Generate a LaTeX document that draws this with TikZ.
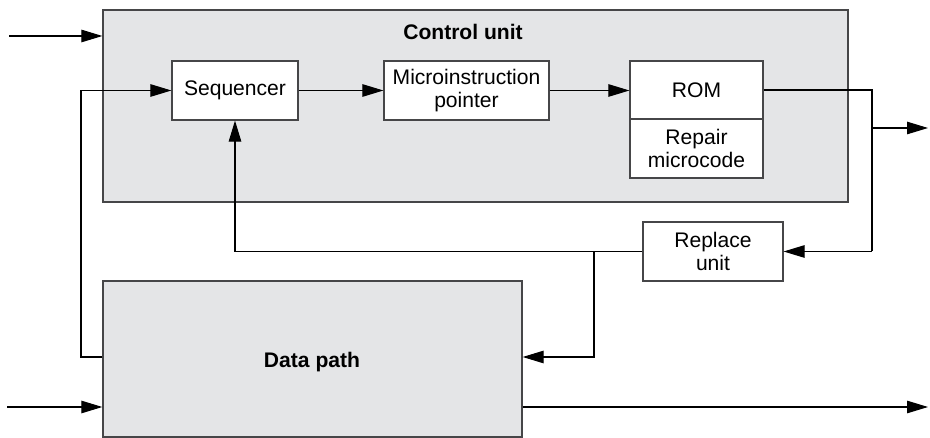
\documentclass[tikz,border=0pt]{standalone}
\usepackage{fontspec}
\setmainfont{Liberation Sans}
\usetikzlibrary{arrows.meta}

\definecolor{unitgray}{RGB}{228,229,231}
\definecolor{edgegray}{RGB}{70,70,72}

\tikzset{
  blk/.style={draw=edgegray,line width=0.7pt,fill=white,rectangle,inner sep=1pt,align=center,
    font=\fontsize{12}{13.5}\selectfont},
  unit/.style={draw=edgegray,line width=0.8pt,fill=unitgray,rectangle,inner sep=0pt},
  arr/.style={line width=0.6pt,-{Triangle[length=0.42cm,width=0.25cm]}},
  wire/.style={line width=0.6pt}
}

\begin{document}
\begin{tikzpicture}[x=0.02cm,y=-0.02cm]
  \useasboundingbox (0,0) rectangle (930,438);
  % big shaded units
  \node (ctrl) at (475.5,106) [unit,minimum width=14.9cm,minimum height=3.84cm] {};
  \node (ctrltitle) at (463,32) [font=\fontsize{12}{13.5}\selectfont\bfseries] {Control unit};
  \node (dp) at (312.5,359) [unit,minimum width=8.38cm,minimum height=3.12cm] {};
  \node (dptitle) at (312,362) [font=\fontsize{12}{13.5}\selectfont\bfseries] {Data path};

  % blocks
  \node (seq) at (235,90.5) [blk,minimum width=2.52cm,minimum height=1.18cm] {Sequencer};
  \node (mip) at (466.5,90.5) [blk,minimum width=3.3cm,minimum height=1.18cm] {Microinstruction\\pointer};
  \node (rom) at (696.5,90) [blk,minimum width=2.66cm,minimum height=1.16cm] {ROM};
  \node (repair) at (696.5,148.5) [blk,minimum width=2.66cm,minimum height=1.18cm] {Repair\\microcode};
  \node (repl) at (713,251.5) [blk,minimum width=2.8cm,minimum height=1.18cm] {Replace\\unit};

  % free ends and bends
  \coordinate (in1) at (9,36);
  \coordinate (in2) at (7,407);
  \coordinate (rt) at (872,90);
  \coordinate (rtout) at (872,128);
  \coordinate (out1) at (928,128);
  \coordinate (out2) at (928,407);
  \coordinate (br) at (594,252);
  \coordinate (lf) at (81,357);

  \draw[arr] (in1) -- (in1 -| ctrl.west);
  \draw[arr] (in2) -- (in2 -| dp.west);
  \draw[arr] (seq) -- (mip);
  \draw[arr] (mip) -- (mip -| rom.west);
  \draw[wire] (rom.east) -- (rt) -- (rt |- repl.east);
  \draw[arr] (rt |- repl.east) -- (repl.east);
  \draw[arr] (rtout) -- (out1);
  \draw[arr] (repl.west) -| (seq.south);
  \draw[arr] (br) |- (dp.east |- lf);
  \draw[arr] (dp.west |- lf) -- (lf) |- (seq.west);
  \draw[arr] (dp.east |- out2) -- (out2);
\end{tikzpicture}
\end{document}
